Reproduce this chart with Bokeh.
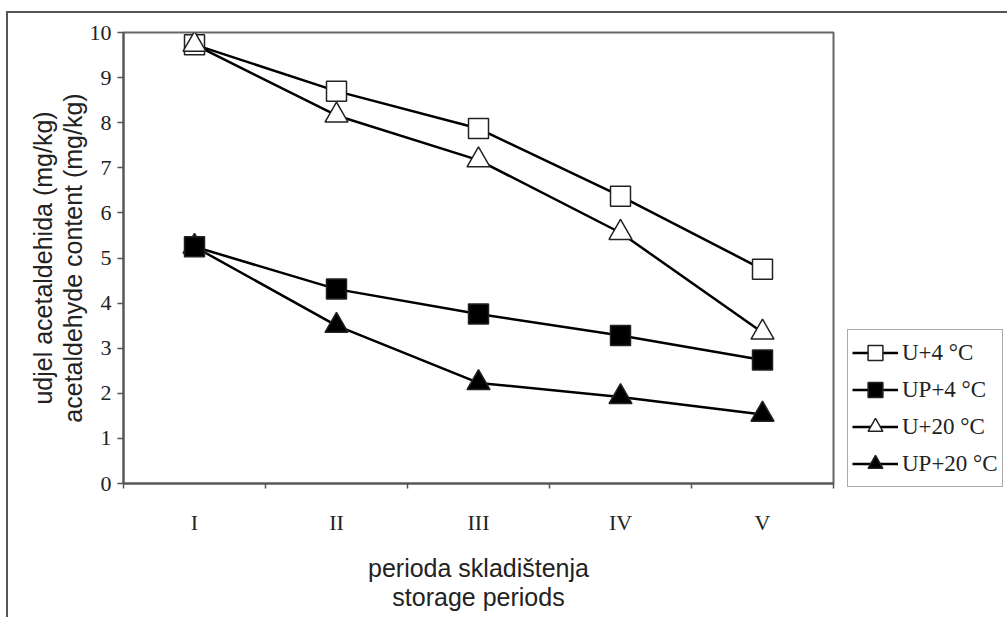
from bokeh.plotting import figure
from bokeh.models import (Range1d, FixedTicker, Legend, LegendItem)
from bokeh.embed import file_html
from bokeh.resources import INLINE
import numpy as np

# ---- data ----
periods = ["I", "II", "III", "IV", "V"]
u_4 = [9.73, 8.70, 7.87, 6.37, 4.75]
up_4 = [5.25, 4.31, 3.76, 3.28, 2.74]
u_20 = [9.73, 8.16, 7.17, 5.56, 3.35]
up_20 = [5.25, 3.50, 2.23, 1.92, 1.53]
series_labels = ["U+4 °C", "UP+4 °C", "U+20 °C", "UP+20 °C"]
y_ticks = list(range(0, 11))

x = (np.arange(len(periods)) + 0.5).tolist()

SERIF = "Liberation Serif"
SANS = "Liberation Sans"
AX = "#555555"

p = figure(frame_width=710, frame_height=451, output_backend="svg", toolbar_location=None,
           x_range=Range1d(0, len(periods)), y_range=Range1d(0, 10),
           min_border_left=115, min_border_top=19, min_border_right=0,
           min_border_bottom=134)
p.margin = (11, 0, 0, 6)
p.styles = {"border-left": "2px solid #555555", "border-top": "2px solid #555555"}

p.xgrid.visible = False
p.ygrid.visible = False
p.outline_line_color = "#666666"
p.outline_line_width = 2
p.background_fill_color = "white"
p.border_fill_color = "white"

# x axis: labels at centres, tick marks at boundaries
xa = p.xaxis[0]
xa.ticker = FixedTicker(ticks=x, minor_ticks=list(range(0, len(periods) + 1)))
xa.major_label_overrides = {xv: lab for xv, lab in zip(x, periods)}
xa.major_tick_out = 0
xa.major_tick_in = 0
xa.minor_tick_out = 5
xa.minor_tick_in = 0
xa.minor_tick_line_color = AX
xa.minor_tick_line_width = 1.5
xa.major_label_standoff = 21
xa.major_label_text_font = SERIF
xa.major_label_text_font_size = "22px"
xa.major_label_text_color = "#222222"
xa.axis_line_color = AX
xa.axis_line_width = 2
xa.axis_label = "perioda skladištenja\nstorage periods"
xa.axis_label_text_font = SANS
xa.axis_label_text_font_size = "25px"
xa.axis_label_text_font_style = "normal"
xa.axis_label_text_color = "#222222"
xa.axis_label_text_line_height = 1.05
xa.axis_label_standoff = 16

ya = p.yaxis[0]
ya.ticker = FixedTicker(ticks=y_ticks, minor_ticks=[])
ya.major_tick_out = 6
ya.major_tick_in = 0
ya.major_tick_line_color = AX
ya.major_tick_line_width = 1.5
ya.major_label_standoff = 6
ya.major_label_text_font = SERIF
ya.major_label_text_font_size = "22px"
ya.major_label_text_color = "#222222"
ya.axis_line_color = AX
ya.axis_line_width = 2
ya.axis_label = "udjel acetaldehida (mg/kg)\nacetaldehyde content (mg/kg)"
ya.axis_label_text_font = SANS
ya.axis_label_text_font_size = "25px"
ya.axis_label_text_font_style = "normal"
ya.axis_label_text_color = "#222222"
ya.axis_label_text_line_height = 1.05
ya.axis_label_standoff = 0

series = [u_4, up_4, u_20, up_20]
markers = ["square", "square", "triangle", "triangle"]
fills = ["white", "black", "white", "black"]
sizes = [20, 20, 23, 23]
draw_order = [0, 2, 3, 1]

lines = [p.line(x, vals, line_color="black", line_width=2.5) for vals in series]

scatters = {}
for i in draw_order:
    scatters[i] = p.scatter(x, series[i], marker=markers[i], size=sizes[i],
                            fill_color=fills[i], line_color="#222222", line_width=1.5)

items = [LegendItem(label=series_labels[i], renderers=[lines[i], scatters[i]])
         for i in range(len(series))]

legend = Legend(items=items, location=(14, -4))
legend.glyph_width = 46
legend.glyph_height = 37
legend.spacing = 0
legend.padding = 4
legend.margin = 0
legend.label_standoff = 4
legend.label_text_font = SERIF
legend.label_text_font_size = "23px"
legend.label_text_color = "#222222"
legend.border_line_color = "#555555"
legend.border_line_width = 1.5
legend.background_fill_color = "white"
legend.background_fill_alpha = 1
p.add_layout(legend, "right")

open("out.html", "w").write(file_html(p, INLINE))
